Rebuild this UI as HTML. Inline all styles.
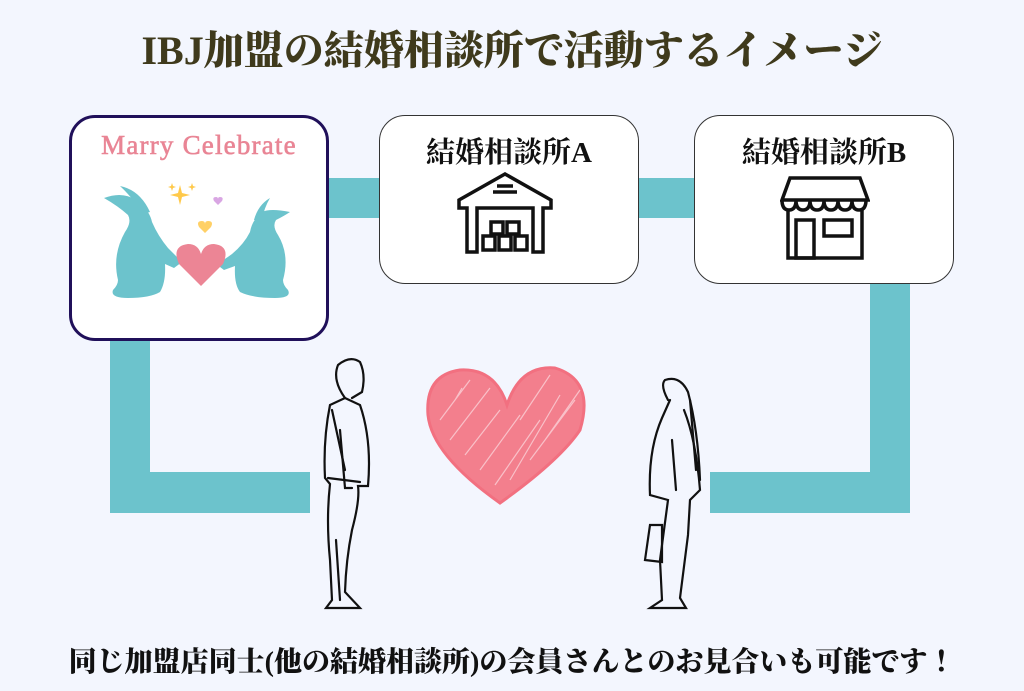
<!DOCTYPE html>
<html><head><meta charset="utf-8"><style>
body{margin:0;width:1024px;height:691px;background:#f3f6fe;position:relative;overflow:hidden;font-family:"Liberation Serif","Noto Serif CJK SC",serif}
.t{position:absolute;left:0;width:1024px;text-align:center;font-weight:bold;white-space:nowrap}
.box{position:absolute;background:#fff;border:1.5px solid #333;border-radius:26px;box-sizing:border-box}
.bar{position:absolute;background:#6cc3cc}
.lbl{position:absolute;left:0;right:0;text-align:center;font-weight:bold;font-size:29px;color:#111;font-family:"Liberation Serif","Noto Serif CJK SC",serif}
</style></head><body>
<div class="t" style="top:19px;font-size:40px;color:#3f3a1c;font-weight:900">IBJ加盟の結婚相談所で活動するイメージ</div>

<div class="bar" style="left:320px;top:178px;width:65px;height:40px"></div>
<div class="bar" style="left:630px;top:178px;width:70px;height:40px"></div>
<div class="bar" style="left:110px;top:335px;width:40px;height:178px"></div>
<div class="bar" style="left:110px;top:472px;width:200px;height:41px"></div>
<div class="bar" style="left:870px;top:280px;width:40px;height:233px"></div>
<div class="bar" style="left:710px;top:472px;width:200px;height:41px"></div>

<div class="box" style="left:69px;top:115px;width:260px;height:226px;border:3px solid #20105a">
<div style="position:absolute;top:12px;left:0;right:0;text-align:center;font-size:27px;letter-spacing:1.2px;color:#e98595;-webkit-text-stroke:0.6px #e98595;white-space:nowrap">Marry Celebrate</div>
<svg style="position:absolute;left:-3px;top:-3px" width="260" height="226" viewBox="69 115 260 226">
<g fill="#6cc3cc">
<path d="M104 198 Q125 190 140 203 Q150 212 152 222 Q158 236 168 248 Q176 256 182 262 L174 268 L165 264 Q166 282 160 292 Q150 298 128 298 Q110 298 113 290 Q118 285 118 280 Q112 255 125 232 Q132 222 128 215 Q118 206 104 198Z"/>
<path d="M120 186 Q140 190 150 212 L142 214 Q135 200 120 186Z"/>
<path d="M290 212 Q270 208 262 212 Q252 220 250 232 Q244 244 232 254 Q224 260 216 264 L224 270 L235 266 Q234 284 240 292 Q252 298 275 298 Q292 298 288 290 Q283 285 283 280 Q290 255 278 235 Q272 226 276 220 Q284 216 290 212Z"/>
<path d="M270 198 Q258 205 254 220 L262 220 Q264 208 270 198Z"/>
</g>
<path d="M201 286 L179 264 Q171 246 188 244 Q198 244 201 254 Q204 244 214 244 Q231 246 223 264Z" fill="#ec8595"/>
<path d="M205 233 l-6 -6 q-3 -6 3 -6 q3 0 3 3 q0 -3 3 -3 q6 0 3 6z" fill="#ffd066"/>
<path d="M218 205 l-4 -4 q-2 -4 2 -4 q2 0 2 2 q0 -2 2 -2 q4 0 2 4z" fill="#d9a6e3"/>
<path d="M180 185 l2 8 8 2 -8 2 -2 8 -2 -8 -8 -2 8 -2z" fill="#ffc94a"/>
<path d="M172 183 l1 3 3 1 -3 1 -1 3 -1 -3 -3 -1 3 -1z M192 183 l1 3 3 1 -3 1 -1 3 -1 -3 -3 -1 3 -1z" fill="#ffc94a"/>
</svg>
</div>

<div class="box" style="left:379px;top:115px;width:260px;height:169px">
<div class="lbl" style="top:14px">結婚相談所A</div>
<svg style="position:absolute;left:75px;top:56px" width="100" height="82" viewBox="0 0 100 82" fill="none" stroke="#111" stroke-width="3.5">
<path d="M4 28 L50 2 L96 28 L96 36 L88 36 L88 80 L78 80 L78 36 L22 36 L22 80 L12 80 L12 36 L4 36Z"/>
<line x1="38" y1="20" x2="62" y2="20"/><line x1="42" y1="14" x2="58" y2="14"/>
<rect x="36" y="50" width="12" height="12"/><rect x="52" y="50" width="12" height="12"/>
<rect x="28" y="64" width="12" height="14"/><rect x="44" y="64" width="12" height="14"/><rect x="60" y="64" width="12" height="14"/>
</svg>
</div>

<div class="box" style="left:694px;top:115px;width:260px;height:169px">
<div class="lbl" style="top:14px">結婚相談所B</div>
<svg style="position:absolute;left:85px;top:60px" width="90" height="85" viewBox="0 0 90 85" fill="none" stroke="#111" stroke-width="3.5">
<path d="M10 2 L80 2 L88 24 L2 24 Z"/>
<path d="M2 24 q0 10 7 10 q7 0 7 -10 q0 10 7 10 q7 0 7 -10 q0 10 7 10 q7 0 7 -10 q0 10 7 10 q7 0 7 -10 q0 10 7 10 q7 0 7 -10 q0 10 7 10 q7 0 7 -10"/>
<path d="M8 34 L8 82 L82 82 L82 34"/>
<rect x="16" y="44" width="18" height="38"/><rect x="44" y="44" width="28" height="16"/>
</svg>
</div>

<svg style="position:absolute;left:0;top:0" width="1024" height="691" viewBox="0 0 1024 691">
<path d="M507 405 Q495 368 460 370 Q425 375 428 415 Q432 455 500 503 Q560 460 580 430 Q595 380 555 368 Q520 365 507 405Z" fill="#f37f8d" stroke="#f27080" stroke-width="3"/>
<g stroke="#fbd2d8" stroke-width="1.2" opacity="0.8">
<path d="M440 420 L470 380 M450 440 L490 388 M465 455 L500 410 M480 470 L520 415 M495 485 L540 420 M510 480 L560 395 M530 460 L575 400 M545 440 L580 390 M455 400 L462 388 M520 420 L550 375"/>
</g>
<g fill="none" stroke="#111" stroke-width="2.2" stroke-linecap="round">
<path d="M345 398 Q332 380 338 365 Q350 355 360 362 Q366 375 362 392 L352 398"/>
<path d="M345 398 L330 405 Q323 440 325 478 L330 484 Q326 520 330 560 L332 600 L326 608 L360 608 L345 592 Q346 560 352 530 Q360 500 358 486 L368 486 Q372 440 360 405 L345 398"/>
<path d="M328 478 L360 482"/><path d="M340 430 L345 488 L352 488"/><path d="M336 540 L340 600"/><path d="M332 410 L345 470"/>
<path d="M668 400 Q660 385 665 380 Q680 375 688 392 Q698 430 700 480"/>
<path d="M670 400 L662 418 Q648 450 650 495 L668 500 L660 560 L662 600 L650 608 L686 608 L680 598 L688 535 L690 500 L700 490 Q696 440 684 410"/>
<path d="M650 525 L662 525 L662 562 L645 560 Z"/><path d="M672 440 L676 490"/><path d="M690 400 L696 470"/>
</g>
</svg>

<div class="t" style="top:640px;font-size:28px;color:#111;font-family:'Liberation Serif','Noto Serif CJK JP',serif;font-weight:900">同じ加盟店同士(他の結婚相談所)の会員さんとのお見合いも可能です！</div>
</body></html>
